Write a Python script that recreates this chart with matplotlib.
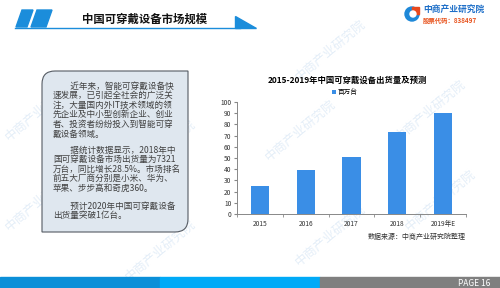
import numpy as np
import matplotlib.pyplot as plt
from matplotlib.patches import Polygon, Rectangle, PathPatch
from matplotlib.path import Path

plt.rcParams['font.family'] = ['Noto Sans CJK SC', 'DejaVu Sans']

years = ['2015', '2016', '2017', '2018', '2019年E']
shipments = [25, 39, 51, 73.21, 90.5]
yticks = list(range(0, 101, 10))

chart_title = '2015-2019年中国可穿戴设备出货量及预测'
legend_label = '百万台'
source_note = '数据来源：中商产业研究院整理'
page_title = '中国可穿戴设备市场规模'

para1 = ['\u3000\u3000近年来，智能可穿戴设备快',
         '速发展，已引起全社会的广泛关',
         '注，大量国内外IT技术领域的领',
         '先企业及中小型创新企业、创业',
         '者、投资者纷纷投入到智能可穿',
         '戴设备领域。']
para2 = ['\u3000\u3000据统计数据显示，2018年中',
         '国可穿戴设备市场出货量为7321',
         '万台，同比增长28.5%。市场排名',
         '前五大厂商分别是小米、华为、',
         '苹果、步步高和奇虎360。']
para3 = ['\u3000\u3000预计2020年中国可穿戴设备',
         '出货量突破1亿台。']

W, H = 500, 288
fig = plt.figure(figsize=(5, 2.88), dpi=100)
fig.patch.set_facecolor('white')

# overlay axes in pixel coordinates for decorations
bg = fig.add_axes([0, 0, 1, 1])
bg.set_xlim(0, W)
bg.set_ylim(H, 0)
bg.axis('off')

# faint watermarks
wm_color = '#e4eef8'
for (x, y) in [(40, 110), (40, 200), (160, 150), (300, 130), (330, 235),
               (430, 110), (440, 200), (160, 250), (330, 50)]:
    bg.text(x, y, '中商产业研究院', rotation=40, color=wm_color, fontsize=9,
            ha='center', va='center', zorder=0)

# header
blue = '#1b8ddb'
bg.add_patch(Polygon([[16, 27], [22, 10], [33, 10], [27, 27]], closed=True, color=blue))
bg.add_patch(Polygon([[31, 27], [37, 10], [52, 10], [46, 27]], closed=True, color=blue))
bg.plot([15, 240], [27.5, 27.5], color=blue, lw=1)
bg.add_patch(Polygon([[235, 16], [235, 27.5], [256, 27.5]], closed=True, color=blue))
bg.text(82, 19, page_title, fontsize=8.2, fontweight='bold', va='center', ha='left', color='#111111')

# logo
bg.add_patch(plt.Circle((412, 14), 7, color='#1e88d8'))
bg.add_patch(Rectangle((412, 7), 7, 7, color='#e8491d'))
bg.add_patch(plt.Circle((413, 14), 3, color='white'))
bg.text(423, 10.5, '中商产业研究院', fontsize=6.3, fontweight='bold', color='#1e6fc8', va='center')
bg.text(423, 20.5, '股票代码：838497', fontsize=4.6, fontweight='bold', color='#e8531d', va='center')

# text box with rounded top-left and bottom-right corners
x0, y0, x1, y1, r = 42, 71, 188, 232, 13
verts = [(x0, y0 + r), (x0, y0), (x0 + r, y0), (x1, y0), (x1, y1 - r), (x1, y1),
         (x1 - r, y1), (x0, y1), (x0, y0 + r)]
codes = [Path.MOVETO, Path.CURVE3, Path.CURVE3, Path.LINETO, Path.LINETO,
         Path.CURVE3, Path.CURVE3, Path.LINETO, Path.CLOSEPOLY]
bg.add_patch(PathPatch(Path(verts, codes), facecolor='#dfe7ef', edgecolor='#555b63', lw=0.8, zorder=1))

for lines, ty0 in [(para1, 86), (para2, 150), (para3, 206)]:
    for i, ln in enumerate(lines):
        bg.text(53, ty0 + i * 9.6, ln, fontsize=6.2, color='#404040', va='center', ha='left', zorder=2)

# footer
bg.add_patch(Rectangle((0, 277), 160, 11, color='#0b8fd8'))
bg.add_patch(Rectangle((160, 277), 160, 11, color='#00aaf7'))
bg.add_patch(Rectangle((320, 277), 180, 11, color='#7f7f7f'))
bg.text(490, 283, 'PAGE 16', fontsize=6, color='white', ha='right', va='center')

# chart
ax = fig.add_axes([237 / W, 1 - 214 / H, (466 - 237) / W, (214 - 102) / H])
ax.set_facecolor('none')
x = np.arange(len(years))
ax.bar(x, shipments, width=0.4, color='#3a8ee6', label=legend_label, zorder=2)
ax.set_xlim(-0.5, len(years) - 0.5)
ax.set_ylim(0, 100)
ax.set_yticks(yticks)
ax.set_yticklabels([str(v) for v in yticks], fontsize=4.8, color='#333333')
ax.set_xticks(x)
ax.set_xticklabels(years, fontsize=4.8, color='#333333')
ax.set_xticks(np.arange(-0.5, len(years)), minor=True)
ax.tick_params(axis='x', which='major', length=0, pad=4)
ax.tick_params(axis='x', which='minor', length=2.5, color='#888888')
ax.tick_params(axis='y', length=2.5, color='#888888', pad=1.5)
for s in ['top', 'right']:
    ax.spines[s].set_visible(False)
for s in ['left', 'bottom']:
    ax.spines[s].set_color('#888888')
    ax.spines[s].set_linewidth(0.7)

fig.text(347 / W, 1 - 80 / H, chart_title, fontsize=6, fontweight='bold', ha='center', va='center')
ax.legend(loc='center', bbox_to_anchor=((345 - 237) / (466 - 237), (214 - 92) / (214 - 102)),
          fontsize=4.8, frameon=False, handlelength=0.6, handleheight=0.6, handletextpad=0.3,
          borderpad=0)
fig.text(466 / W, 1 - 237 / H, source_note, fontsize=5, ha='right', va='center', color='#333333')

fig.savefig('out.png', dpi=100)
